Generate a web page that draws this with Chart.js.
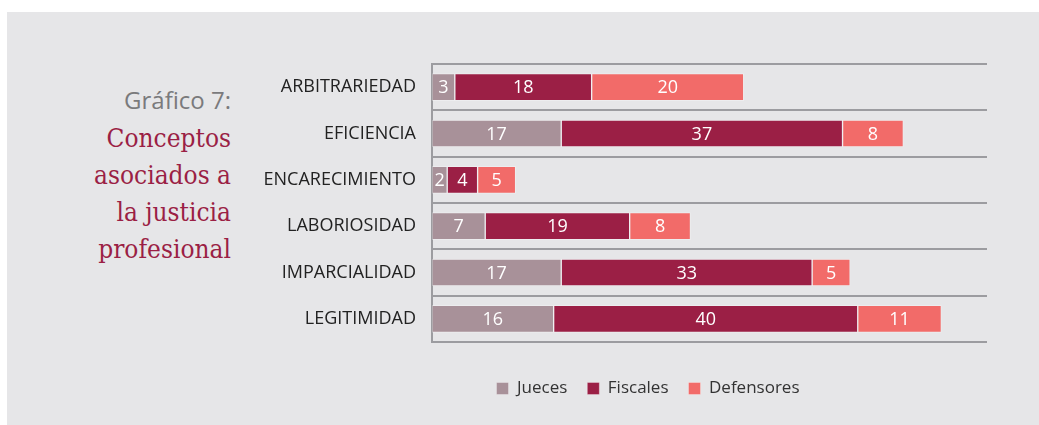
<!DOCTYPE html>
<html>
<head>
<meta charset="utf-8">
<script src="https://cdn.jsdelivr.net/npm/chart.js@4.4.1/dist/chart.umd.min.js"></script>
<style>
  html, body { margin: 0; padding: 0; background: #fff; }
  body { width: 1039px; height: 425px; position: relative; overflow: hidden; }
  #panel { position: absolute; left: 7px; top: 12px; width: 1032px; height: 413px; background: #e6e6e8; }
  #title { position: absolute; left: 0; top: 83px; width: 231px; text-align: right; }
  #title .num { font-family: "Open Sans", sans-serif; font-size: 24px; color: #7a7a7c; line-height: 34px; }
  #title .txt { font-family: "DejaVu Serif Condensed", "DejaVu Serif", serif; font-size: 26px; color: #9b1f45; line-height: 37px; margin-top: 3px; }
  #wrap { position: absolute; left: 250px; top: 0; width: 789px; height: 425px; }
</style>
</head>
<body>
<div id="panel"></div>
<div id="title">
  <div class="num">Gráfico 7:</div>
  <div class="txt">Conceptos<br>asociados a<br>la justicia<br>profesional</div>
</div>
<div id="wrap"><canvas id="chart"></canvas></div>
<script>
const categories = ['ARBITRARIEDAD', 'EFICIENCIA', 'ENCARECIMIENTO', 'LABORIOSIDAD', 'IMPARCIALIDAD', 'LEGITIMIDAD'];
const jueces = [3, 17, 2, 7, 17, 16];
const fiscales = [18, 37, 4, 19, 33, 40];
const defensores = [20, 8, 5, 8, 5, 11];

const COLORS = { jueces: '#a89199', fiscales: '#9b1f45', defensores: '#f26b69' };
const GRID = '#9c9ca0';

// white numbers centred in every segment
const valueLabels = {
  id: 'valueLabels',
  afterDatasetsDraw(chart) {
    const ctx = chart.ctx;
    ctx.save();
    ctx.font = '18px "Open Sans", sans-serif';
    ctx.fillStyle = '#fff';
    ctx.textAlign = 'center';
    ctx.textBaseline = 'middle';
    chart.data.datasets.forEach((ds, i) => {
      chart.getDatasetMeta(i).data.forEach((bar, j) => {
        const p = bar.getProps(['x', 'y', 'base'], true);
        ctx.fillText(ds.data[j], (p.x + p.base) / 2, p.y + 1);
      });
    });
    ctx.restore();
  }
};

// legend in the reference is centred a bit left of the plot: shift its box
const legendShift = {
  id: 'legendShift',
  afterLayout(chart) {
    const lg = chart.legend;
    if (lg) { lg.left = 59; lg.width = lg.right - lg.left; }
  }
};

new Chart(document.getElementById('chart'), {
  type: 'bar',
  data: {
    labels: categories,
    datasets: [
      { label: 'Jueces', data: jueces, backgroundColor: COLORS.jueces },
      { label: 'Fiscales', data: fiscales, backgroundColor: COLORS.fiscales },
      { label: 'Defensores', data: defensores, backgroundColor: COLORS.defensores }
    ].map(d => Object.assign(d, { borderWidth: 1, borderColor: 'rgba(255,255,255,0.3)', borderSkipped: false, barThickness: 27 }))
  },
  options: {
    indexAxis: 'y',
    responsive: true,
    maintainAspectRatio: false,
    animation: false,
    layout: { padding: { left: 0, right: 52, top: 64, bottom: 18 } },
    scales: {
      x: { stacked: true, display: false, min: 0, max: 73 },
      y: {
        stacked: true,
        afterFit: s => { s.width = 182; },
        grid: { color: GRID, lineWidth: 2, drawTicks: false, offset: true },
        border: { color: GRID, width: 2 },
        ticks: { padding: 16, color: '#222', font: { family: '"Open Sans", sans-serif', size: 18 } }
      }
    },
    plugins: {
      tooltip: { enabled: false },
      legend: {
        position: 'bottom',
        title: { display: true, text: ' ', font: { size: 10 }, padding: { top: 6, bottom: 0 } },
        labels: { boxWidth: 12, boxHeight: 12, padding: 20, color: '#333', font: { family: '"Open Sans", sans-serif', size: 17 } }
      }
    }
  },
  plugins: [valueLabels, legendShift]
});
</script>
</body>
</html>
